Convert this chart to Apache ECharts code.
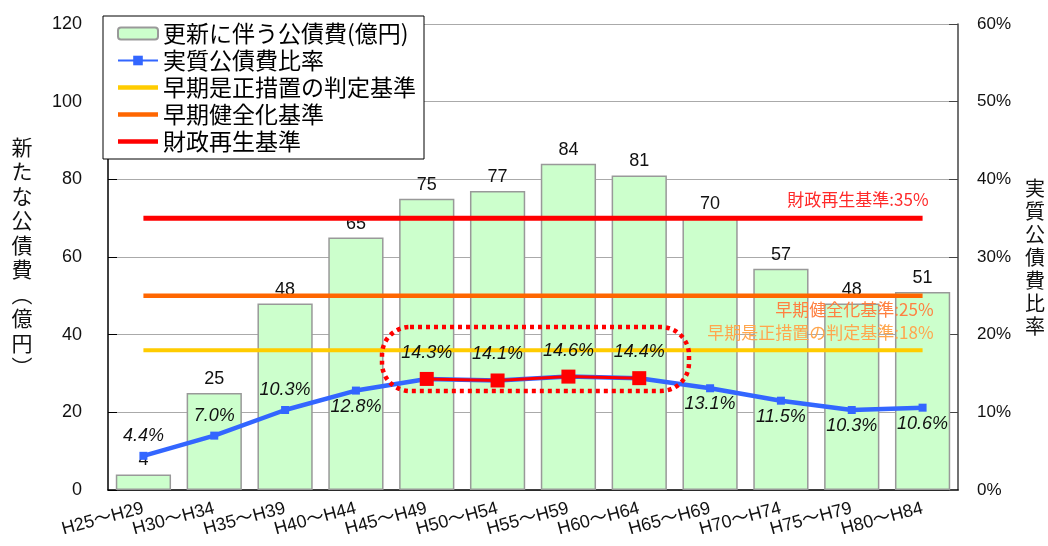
<!DOCTYPE html>
<html>
<head>
<meta charset="utf-8">
<script src="https://cdn.jsdelivr.net/npm/echarts@6/dist/echarts.min.js"></script>
<style>html,body{margin:0;padding:0;background:#fff}#c{width:1048px;height:546px}</style>
</head>
<body>
<div id="c"></div>
<script>
const categories = ['H25～H29','H30～H34','H35～H39','H40～H44','H45～H49','H50～H54','H55～H59','H60～H64','H65～H69','H70～H74','H75～H79','H80～H84'];
const bondCost = [4, 25, 48, 65, 75, 77, 84, 81, 70, 57, 48, 51];
const ratio = [4.4, 7.0, 10.3, 12.8, 14.3, 14.1, 14.6, 14.4, 13.1, 11.5, 10.3, 10.6];
const peakRatio = [null, null, null, null, 14.3, 14.1, 14.6, 14.4, null, null, null, null];
const earlyCorrection = [18, 18, 18, 18, 18, 18, 18, 18, 18, 18, 18, 18];
const earlyHealth = [25, 25, 25, 25, 25, 25, 25, 25, 25, 25, 25, 25];
const fiscalRebuild = [35, 35, 35, 35, 35, 35, 35, 35, 35, 35, 35, 35];
const leftTicks = {min: 0, max: 120, interval: 20};
const rightTicks = {min: 0, max: 60, interval: 10};
const names = {
  bar: '更新に伴う公債費(億円)',
  ratio: '実質公債費比率',
  yellow: '早期是正措置の判定基準',
  orange: '早期健全化基準',
  red: '財政再生基準'
};

const FONT = "'Liberation Sans', 'Noto Sans CJK JP', sans-serif";
const JP = "'Noto Sans CJK JP', sans-serif";
const LINE_ICON = 'path://M0,0 H40 V4.5 H0 Z';

// label placement for ratio labels
const belowIdx = [3, 8, 9, 10, 11];
const peakIdx = [4, 5, 6, 7];
const ratioData = ratio.map((v, i) => {
  const below = belowIdx.includes(i);
  const peak = peakIdx.includes(i);
  return {
    value: v,
    label: {
      position: below ? 'bottom' : 'top',
      distance: peak ? 13 : (below ? 3 : 7)
    }
  };
});

function lastLabel(arr, text, color, pos, offset) {
  return arr.map((v, i) => i === arr.length - 1 ? {
    value: v,
    label: {show: true, formatter: text, position: pos, align: 'right', offset: offset,
      color: color, fontSize: 17, fontFamily: JP}
  } : v);
}

const chart = echarts.init(document.getElementById('c'));
chart.setOption({
  animation: false,
  textStyle: {fontFamily: FONT},
  grid: {left: 108, right: 90, top: 24, bottom: 56},
  legend: {
    orient: 'vertical', left: 103, top: 16,
    data: [
      {name: names.bar},
      {name: names.ratio},
      {name: names.yellow, icon: LINE_ICON},
      {name: names.orange, icon: LINE_ICON},
      {name: names.red, icon: LINE_ICON}
    ],
    backgroundColor: '#fff', borderColor: '#000', borderWidth: 1,
    padding: [6, 8, 6, 14], itemGap: 4, itemWidth: 40, itemHeight: 12,
    textStyle: {fontSize: 23, color: '#000', fontFamily: JP, lineHeight: 21}
  },
  xAxis: {
    type: 'category', data: categories, boundaryGap: true,
    axisLine: {lineStyle: {color: '#000', width: 1.5}},
    axisTick: {inside: true, length: 6, lineStyle: {color: '#000'}},
    axisLabel: {rotate: 15, fontSize: 18, color: '#111', margin: 18, interval: 0},
    splitLine: {show: false}
  },
  yAxis: [{
    type: 'value', min: leftTicks.min, max: leftTicks.max, interval: leftTicks.interval,
    name: '新\nた\nな\n公\n債\n費\n︵\n億\n円\n︶', nameLocation: 'middle', nameGap: 86, nameRotate: 0,
    nameTextStyle: {fontSize: 21, lineHeight: 24.5, color: '#111', fontFamily: JP, align: 'center', verticalAlign: 'middle', padding: [0, 0, 14, 0]},
    axisLine: {show: true, lineStyle: {color: '#000', width: 1.5}},
    axisTick: {show: true, inside: true, length: 9, lineStyle: {color: '#000'}},
    axisLabel: {fontSize: 18, color: '#111', margin: 26},
    splitLine: {show: true, lineStyle: {color: '#aaa', width: 1}}
  }, {
    type: 'value', min: rightTicks.min, max: rightTicks.max, interval: rightTicks.interval,
    name: '実\n質\n公\n債\n費\n比\n率', nameLocation: 'middle', nameGap: 77, nameRotate: 0,
    nameTextStyle: {fontSize: 20, lineHeight: 23, color: '#111', fontFamily: JP, align: 'center', verticalAlign: 'middle', padding: [0, 0, 12, 0]},
    axisLine: {show: true, lineStyle: {color: '#444', width: 1.5}},
    axisTick: {show: true, inside: true, length: 9, lineStyle: {color: '#444'}},
    axisLabel: {fontSize: 17, color: '#111', margin: 19, formatter: '{value}%'},
    splitLine: {show: false}
  }],
  series: [{
    name: names.bar, type: 'bar', data: bondCost, barWidth: '78%', z: 2,
    itemStyle: {color: '#ccffcc', borderColor: '#999', borderWidth: 1.5},
    label: {show: true, position: 'top', distance: 5, fontSize: 18, color: '#111'}
  }, {
    name: names.yellow, type: 'line', yAxisIndex: 1, symbol: 'circle', symbolSize: 0, showSymbol: true, z: 4,
    data: lastLabel(earlyCorrection, '早期是正措置の判定基準:18%', '#ffa64d', 'top', [11, -4]),
    lineStyle: {color: '#ffcc00', width: 4}, itemStyle: {color: '#ffcc00'}
  }, {
    name: names.orange, type: 'line', yAxisIndex: 1, symbol: 'circle', symbolSize: 0, showSymbol: true, z: 4,
    data: lastLabel(earlyHealth, '早期健全化基準:25%', '#ff8040', 'bottom', [11, 0]),
    lineStyle: {color: '#ff6600', width: 4.5}, itemStyle: {color: '#ff6600'}
  }, {
    name: names.red, type: 'line', yAxisIndex: 1, symbol: 'circle', symbolSize: 0, showSymbol: true, z: 4,
    data: lastLabel(fiscalRebuild, '財政再生基準:35%', '#ff2a2a', 'top', [6, -5]),
    lineStyle: {color: '#ff0000', width: 5}, itemStyle: {color: '#ff0000'}
  }, {
    name: names.ratio, type: 'line', yAxisIndex: 1, data: ratioData, z: 6,
    symbol: 'rect', symbolSize: 8,
    lineStyle: {color: '#3366ff', width: 4.5}, itemStyle: {color: '#3366ff'},
    label: {show: true, formatter: p => p.value.toFixed(1) + '%', fontSize: 18, fontStyle: 'italic', color: '#111'}
  }, {
    name: 'peak', type: 'line', yAxisIndex: 1, data: peakRatio, z: 7,
    symbol: 'rect', symbolSize: 14,
    lineStyle: {color: '#ff0000', width: 3}, itemStyle: {color: '#ff0000'}
  }],
  graphic: [{
    type: 'rect', z: 8,
    shape: {x: 382, y: 327, width: 307, height: 64, r: 28},
    style: {fill: 'none', stroke: '#ff0000', lineWidth: 4.5, lineDash: [4, 4]}
  }]
});
</script>
</body>
</html>
